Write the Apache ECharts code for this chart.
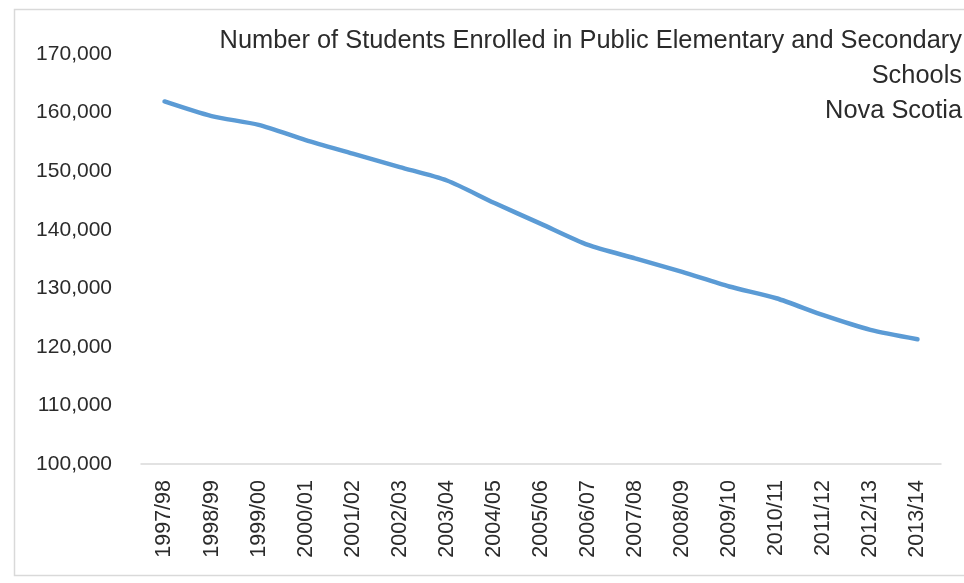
<!DOCTYPE html>
<html>
<head>
<meta charset="utf-8">
<script src="https://cdn.jsdelivr.net/npm/echarts@6/dist/echarts.min.js"></script>
<style>
html,body{margin:0;padding:0;background:#fff;}
#chart{width:964px;height:583px;}
</style>
</head>
<body>
<div id="chart"></div>
<script>
const categories = ['1997/98','1998/99','1999/00','2000/01','2001/02','2002/03','2003/04','2004/05','2005/06','2006/07','2007/08','2008/09','2009/10','2010/11','2011/12','2012/13','2013/14'];
const enrolment = [161900,159400,157900,155300,153000,150700,148400,144600,141000,137400,135100,132800,130300,128300,125400,122900,121300];
const titleText = 'Number of Students Enrolled in Public Elementary and Secondary\nSchools\nNova Scotia';
const yMin = 100000, yMax = 170000, yStep = 10000;

const chart = echarts.init(document.getElementById('chart'), null, {renderer:'canvas'});
const FONT = '"Liberation Sans", Arial, sans-serif';
chart.setOption({
  backgroundColor: '#ffffff',
  animation: false,
  graphic: [{
    type: 'rect', left: 12, top: 7,
    shape: {width: 960, height: 566},
    style: {fill: 'none', stroke: '#d9d9d9', lineWidth: 1.5},
    silent: true
  }, {
    type: 'text',
    x: 962, y: 23,
    style: {
      text: titleText,
      align: 'right', verticalAlign: 'top',
      font: 'normal 25.4px ' + FONT,
      fill: '#2b2b2b',
      lineHeight: 35
    },
    silent: true
  }],
  grid: {left: 141, right: 23, top: 54, bottom: 119, containLabel: false},
  xAxis: {
    type: 'category',
    data: categories,
    boundaryGap: true,
    axisLine: {lineStyle: {color: '#d9d9d9', width: 1.5}},
    axisTick: {show: false},
    axisLabel: {rotate: 90, margin: 16, fontFamily: FONT, fontSize: 21.5, color: '#2b2b2b', interval: 0}
  },
  yAxis: {
    type: 'value',
    min: yMin, max: yMax, interval: yStep,
    axisLine: {show: false},
    axisTick: {show: false},
    splitLine: {show: false},
    axisLabel: {
      margin: 29, fontFamily: FONT, fontSize: 21, color: '#2b2b2b',
      formatter: v => v.toLocaleString('en-US')
    }
  },
  series: [{
    type: 'line',
    data: enrolment,
    smooth: 0.25,
    symbol: 'none',
    lineStyle: {color: '#5b9bd5', width: 4.5, cap: 'round'},
    itemStyle: {color: '#5b9bd5'}
  }]
});
</script>
</body>
</html>
